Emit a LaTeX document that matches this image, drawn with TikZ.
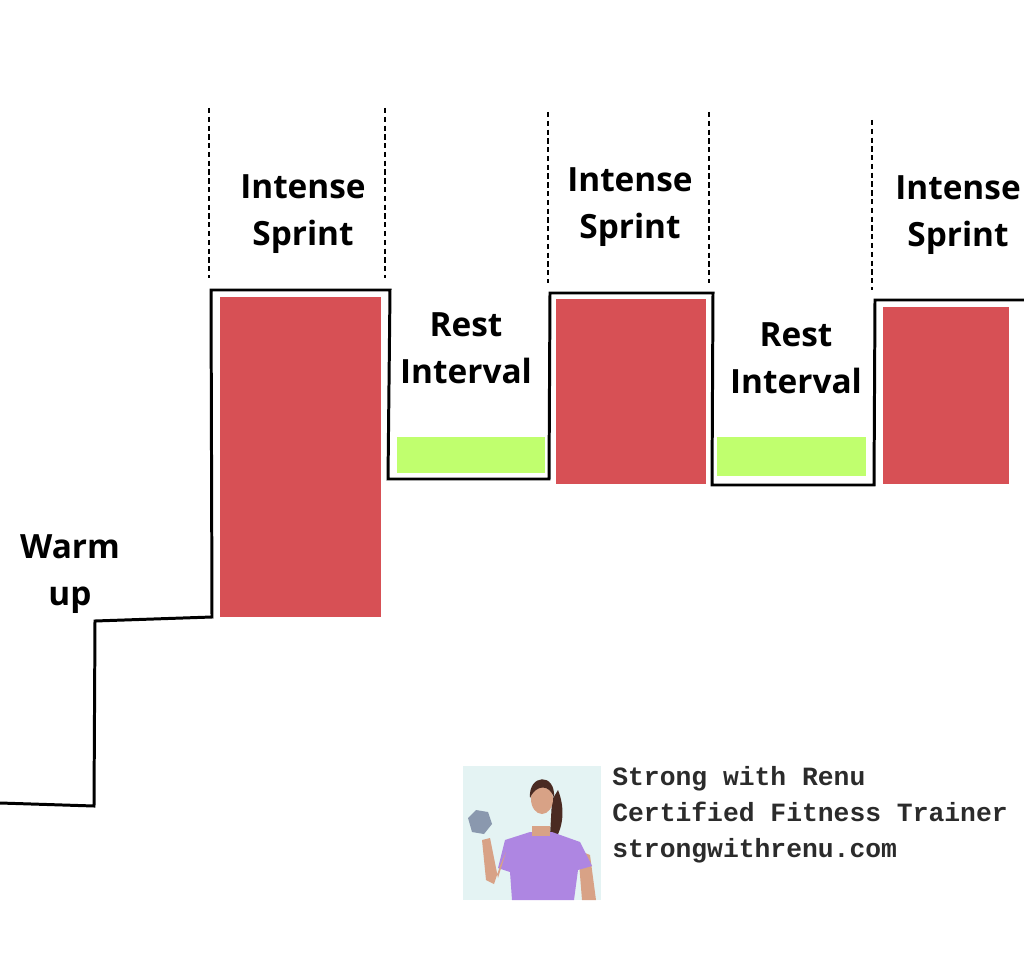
\documentclass[tikz,border=0pt]{standalone}
\usepackage{fontspec}
\usepackage{tikz}
\usetikzlibrary{positioning}
\newfontfamily\labelfont{Open Sans}
\newfontfamily\brandfont{Liberation Mono}
\definecolor{sprintred}{HTML}{D75055}
\definecolor{restgreen}{HTML}{C0FF6E}
\definecolor{photobg}{HTML}{E4F3F3}
\definecolor{shirt}{HTML}{AE86E2}
\definecolor{skin}{HTML}{D8A286}
\definecolor{hair}{HTML}{4A2A22}
\definecolor{bell}{HTML}{8A98AE}
\definecolor{brandgray}{HTML}{2B2B2B}

\begin{document}
\begin{tikzpicture}[x=0.02cm,y=-0.02cm,
  lbl/.style={font=\labelfont\bfseries\fontsize{19}{26.6}\selectfont, align=center, inner sep=0pt},
  brand/.style={font=\brandfont\bfseries\fontsize{15}{20.4}\selectfont, text=brandgray, anchor=base west, inner sep=0pt},
  guide/.style={line width=1.3pt, dash pattern=on 3pt off 2pt},
  stepline/.style={line width=1.7pt, line join=miter}]
\useasboundingbox (0,0) rectangle (1024,953);
\fill[sprintred] (220,297) rectangle (381,617);
\fill[sprintred] (556,299) rectangle (706,484);
\fill[sprintred] (883,307) rectangle (1009,484);
\fill[restgreen] (397,437) rectangle (545,473);
\fill[restgreen] (717,437) rectangle (866,476);
\draw[stepline] (0,803) -- (94,806) -- (95,621) -- (212,617) -- (211,290) -- (390,290)
  -- (388,479) -- (549,479) -- (550,293) -- (713,293) -- (712,485) -- (874,485)
  -- (875,300) -- (1024,300);
\draw[guide] (209,108) -- (209,278);
\draw[guide] (385,108) -- (385,278);
\draw[guide] (548,112) -- (548,283);
\draw[guide] (709,112) -- (709,283);
\draw[guide] (872,120) -- (872,290);
\node[lbl] (sprintA) at (303,214) {Intense\\Sprint};
\node[lbl] (sprintB) at (630,207) {Intense\\Sprint};
\node[lbl] (sprintC) at (958,215) {Intense\\Sprint};
\node[lbl] (restA) at (466,348) {Rest\\Interval};
\node[lbl] (restB) at (796,358) {Rest\\Interval};
\node[lbl] (warm) at (70,574) {Warm\\up};
\fill[photobg] (463,766) rectangle (601,900);
\fill[hair] (558,790) .. controls (566,810) and (562,828) .. (556,838) -- (550,836) -- (552,800) -- cycle;
\fill[skin] (596,900) -- (590,855) -- (578,850) -- (582,900) -- cycle;
\fill[shirt] (505,840) -- (530,832) -- (552,832) -- (580,842) -- (592,866) -- (578,870) -- (574,900) -- (512,900) -- (510,872) -- (498,868) -- cycle;
\fill[skin] (532,826) rectangle (550,836);
\fill[skin] (542,799) ellipse (11 and 15);
\fill[hair] (530,798) .. controls (528,774) and (556,772) .. (554,798) .. controls (550,784) and (536,784) .. (530,798) -- cycle;
\fill[skin] (482,840) -- (490,838) -- (498,878) -- (506,852) -- (500,866) -- (494,884) -- (486,880) -- cycle;
\fill[bell] (468,818) -- (476,810) -- (488,812) -- (492,824) -- (484,834) -- (472,832) -- cycle;
\node[brand] (brandA) at (612,785) {Strong with Renu};
\node[brand] (brandB) at (612,821) {Certified Fitness Trainer};
\node[brand] (brandC) at (612,857) {strongwithrenu.com};
\end{tikzpicture}
\end{document}
